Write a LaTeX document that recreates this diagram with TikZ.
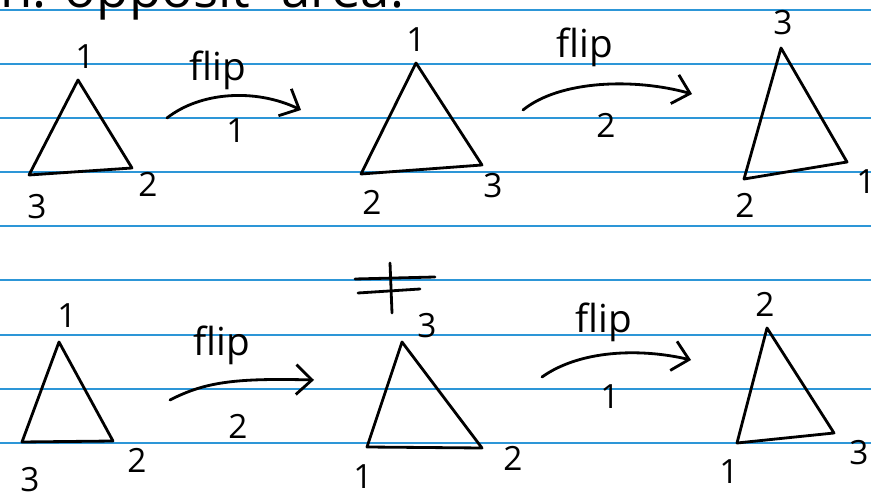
\documentclass[tikz,border=0pt]{standalone}
\usepackage{fontspec}
\setmainfont{Open Sans}
\usetikzlibrary{arrows.meta}
\definecolor{ruleblue}{RGB}{45,150,215}
\tikzset{
  ruling/.style={ruleblue, line width=0.9pt},
  ink/.style={black, line width=1.6pt, line cap=round, line join=round},
  lbl/.style={inner sep=0pt, font=\fontsize{19}{19}\selectfont},
  fliplbl/.style={inner sep=0pt, font=\fontsize{22}{22}\selectfont},
  fliparrow/.style={ink, -{Straight Barb[length=9pt,width=17pt,line width=1.6pt]}}
}
\begin{document}
\begin{tikzpicture}[x=0.02cm,y=-0.02cm]
\clip (0,0) rectangle (871,492);
\fill[white] (0,0) rectangle (871,492);
% ruled lines
\foreach \yy in {10,64,118,172,226,280,335,389,443}
  \draw[ruling] (0,\yy) -- (871,\yy);
% cut-off heading
\node[anchor=base west, inner sep=0pt, font=\fontsize{30}{30}\selectfont] (head) at (0,8) {n. opposit\,\, area.};

% ---------- triangle 1
\coordinate (t1a) at (78,80); \coordinate (t1b) at (29,175); \coordinate (t1c) at (132,168);
\draw[ink] (t1a) -- (t1b) -- (t1c) -- cycle;
\node[lbl] (l1a) at (85,57) {1};
\node[lbl] (l1b) at (37,207) {3};
\node[lbl] (l1c) at (148,184) {2};
% arrow 1
\coordinate (a1s) at (167,118); \coordinate (a1e) at (301,110);
\draw[fliparrow] (a1s) .. controls (200,92) and (255,88) .. (a1e);
\node[fliplbl] (f1) at (218,70) {flip};
\node[lbl] (n1) at (236,131) {1};

% ---------- triangle 2
\coordinate (t2a) at (416,63); \coordinate (t2b) at (361,174); \coordinate (t2c) at (482,165);
\draw[ink] (t2a) -- (t2b) -- (t2c) -- cycle;
\node[lbl] (l2a) at (416,40) {1};
\node[lbl] (l2b) at (372,202) {2};
\node[lbl] (l2c) at (493,186) {3};
% arrow 2
\coordinate (a2s) at (523,110); \coordinate (a2e) at (692,94);
\draw[fliparrow] (a2s) .. controls (560,80) and (635,78) .. (a2e);
\node[fliplbl] (f2) at (585,47) {flip};
\node[lbl] (n2) at (606,125) {2};

% ---------- triangle 3
\coordinate (t3a) at (781,48); \coordinate (t3b) at (744,179); \coordinate (t3c) at (847,162);
\draw[ink] (t3a) -- (t3b) -- (t3c) -- cycle;
\node[lbl] (l3a) at (783,23) {3};
\node[lbl] (l3b) at (745,205) {2};
\node[lbl] (l3c) at (866,182) {1};

% ---------- not-equal sign
\coordinate (ne1) at (355,279); \coordinate (ne2) at (435,277);
\coordinate (ne3) at (358,293); \coordinate (ne4) at (420,289);
\coordinate (ne5) at (390,263); \coordinate (ne6) at (392,313);
\draw[ink] (ne1) -- (ne2);
\draw[ink] (ne3) -- (ne4);
\draw[ink] (ne5) -- (ne6);

% ---------- triangle 4
\coordinate (t4a) at (59,342); \coordinate (t4b) at (22,442); \coordinate (t4c) at (113,441);
\draw[ink] (t4a) -- (t4b) -- (t4c) -- cycle;
\node[lbl] (l4a) at (67,316) {1};
\node[lbl] (l4b) at (30,480) {3};
\node[lbl] (l4c) at (137,460) {2};
% arrow 3
\coordinate (a3s) at (170,400); \coordinate (a3e) at (314,380);
\draw[fliparrow] (a3s) .. controls (205,382) and (235,378) .. (a3e);
\node[fliplbl] (f3) at (222,345) {flip};
\node[lbl] (n3) at (238,426) {2};

% ---------- triangle 5
\coordinate (t5a) at (402,342); \coordinate (t5b) at (367,447); \coordinate (t5c) at (482,448);
\draw[ink] (t5a) -- (t5b) -- (t5c) -- cycle;
\node[lbl] (l5a) at (427,326) {3};
\node[lbl] (l5b) at (363,477) {1};
\node[lbl] (l5c) at (513,458) {2};
% arrow 4
\coordinate (a4s) at (542,377); \coordinate (a4e) at (691,360);
\draw[fliparrow] (a4s) .. controls (580,350) and (640,348) .. (a4e);
\node[fliplbl] (f4) at (604,322) {flip};
\node[lbl] (n4) at (610,397) {1};

% ---------- triangle 6
\coordinate (t6a) at (767,328); \coordinate (t6b) at (737,443); \coordinate (t6c) at (834,433);
\draw[ink] (t6a) -- (t6b) -- (t6c) -- cycle;
\node[lbl] (l6a) at (765,304) {2};
\node[lbl] (l6b) at (729,472) {1};
\node[lbl] (l6c) at (859,453) {3};
\end{tikzpicture}
\end{document}
